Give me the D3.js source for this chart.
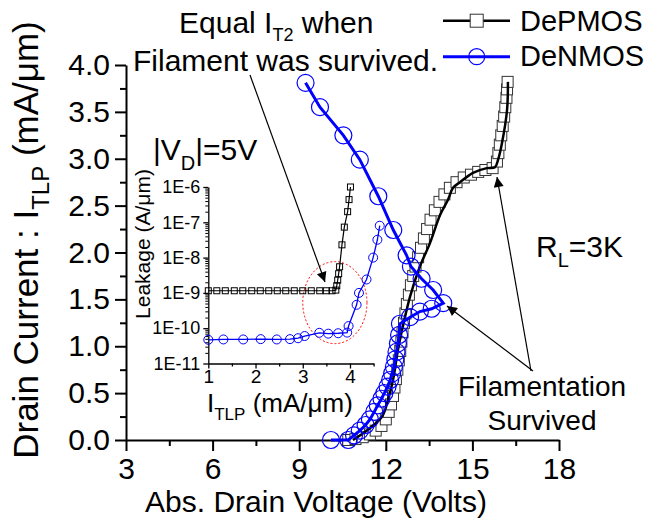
<!DOCTYPE html>
<html><head><meta charset="utf-8">
<script src="https://cdn.jsdelivr.net/npm/d3@7/dist/d3.min.js"></script>
<style>
body{margin:0;background:#fff}
svg{display:block}
text{font-family:"Liberation Sans",Arial,Helvetica,sans-serif;fill:#000}
</style>
</head><body>
<svg id="c" width="647" height="520"></svg>
<script>
// ---------- DATA ----------
const xTickVals = [3, 6, 9, 12, 15, 18];
const xMinorVals = [4.5, 7.5, 10.5, 13.5, 16.5];
const yTickVals = [0, 0.5, 1, 1.5, 2, 2.5, 3, 3.5, 4];
const yMinorVals = [0.25, 0.75, 1.25, 1.75, 2.25, 2.75, 3.25, 3.75];

// DePMOS fitted curve (line)
const depmosCurveV = [10.86, 11.38, 11.87, 12.08, 12.25, 12.42, 12.59, 12.84, 13.18, 13.53, 13.88, 14.15, 14.33, 14.57, 15.02, 15.5, 15.78, 15.89, 16.02, 16.2, 16.23];
const depmosCurveI = [0.0, 0.11, 0.25, 0.43, 0.64, 0.96, 1.21, 1.53, 1.85, 2.10, 2.40, 2.56, 2.69, 2.75, 2.85, 2.90, 2.91, 2.99, 3.16, 3.52, 3.82];
// DePMOS measured points (squares)
const depmosPtsV = [10.7, 10.95, 11.2, 11.45, 11.65, 11.85, 12.0, 12.1, 12.18, 12.25, 12.3, 12.35, 12.4, 12.45, 12.5, 12.54, 12.58, 12.63, 12.68, 12.73, 12.8, 12.87, 12.95, 13.03, 13.12, 13.22, 13.32, 13.43, 13.55, 13.7, 13.86, 14.03, 14.22, 14.45, 14.7, 14.95, 15.2, 15.45, 15.7, 15.85, 15.9, 15.95, 16.0, 16.05, 16.1, 16.14, 16.18, 16.2, 16.22];
const depmosPtsI = [0.0, 0.01, 0.03, 0.06, 0.1, 0.15, 0.22, 0.3, 0.38, 0.47, 0.56, 0.65, 0.75, 0.85, 0.95, 1.05, 1.15, 1.25, 1.35, 1.45, 1.55, 1.65, 1.75, 1.85, 1.95, 2.05, 2.15, 2.25, 2.35, 2.45, 2.54, 2.62, 2.69, 2.75, 2.8, 2.83, 2.86, 2.88, 2.9, 2.97, 3.06, 3.15, 3.25, 3.35, 3.45, 3.55, 3.65, 3.74, 3.82];
// DeNMOS (line + circles)
const denmosV = [10.1, 10.7, 10.9, 11.1, 11.3, 11.45, 11.6, 11.72, 11.85, 11.95, 12.06, 12.15, 12.22, 12.28, 12.33, 12.37, 12.42, 12.46, 12.49, 12.84, 13.18, 13.59, 13.99, 13.64, 13.24, 12.87, 12.72, 12.26, 11.74, 11.1, 10.53, 9.72, 9.22];
const denmosI = [0.0, 0.0, 0.05, 0.1, 0.16, 0.22, 0.3, 0.37, 0.44, 0.5, 0.57, 0.64, 0.71, 0.78, 0.86, 0.94, 1.03, 1.12, 1.24, 1.31, 1.37, 1.40, 1.46, 1.60, 1.72, 1.85, 1.97, 2.24, 2.60, 2.99, 3.25, 3.55, 3.81];

// Inset: leakage vs I_TLP
const insetXTicks = [1, 2, 3, 4];
const insetXMinor = [1.5, 2.5, 3.5, 4.5];
const insetYTicks = [1e-11, 1e-10, 1e-9, 1e-8, 1e-7, 1e-6];
const insetYLabels = ["1E-11", "1E-10", "1E-9", "1E-8", "1E-7", "1E-6"];
const insetPmosX = [1.0, 1.18, 1.36, 1.55, 1.73, 1.92, 2.1, 2.28, 2.46, 2.64, 2.82, 3.0, 3.18, 3.36, 3.5, 3.62, 3.7, 3.72, 3.74, 3.76, 3.78, 3.83, 3.88, 3.95, 3.98, 4.01];
const insetPmosY = [1.15e-9, 1.15e-9, 1.15e-9, 1.15e-9, 1.15e-9, 1.15e-9, 1.15e-9, 1.15e-9, 1.15e-9, 1.15e-9, 1.15e-9, 1.15e-9, 1.15e-9, 1.15e-9, 1.15e-9, 1.15e-9, 1.2e-9, 1.6e-9, 2.3e-9, 3.5e-9, 5.5e-9, 2.3e-8, 7.3e-8, 2e-7, 4.4e-7, 1e-6];
const insetNmosX = [1.0, 1.32, 1.74, 2.11, 2.45, 2.73, 2.9, 3.04, 3.35, 3.54, 3.75, 3.94, 3.97, 4.14, 4.19, 4.35, 4.49, 4.58, 4.63];
const insetNmosY = [4.7e-11, 4.8e-11, 4.8e-11, 4.9e-11, 4.8e-11, 4.9e-11, 5.2e-11, 6.0e-11, 7.4e-11, 7.0e-11, 7.2e-11, 7.5e-11, 1.15e-10, 4.6e-10, 1.0e-9, 2.4e-9, 1.0e-8, 3.2e-8, 8e-8];

const legendNames = ["DePMOS", "DeNMOS"];

// ---------- LAYOUT ----------
const svg = d3.select("#c");
const FONT = '"Liberation Sans",Arial,Helvetica,sans-serif';
const x = d3.scaleLinear().domain([3, 18]).range([126, 559]);
const y = d3.scaleLinear().domain([0, 4]).range([440, 65]);
const ix = d3.scaleLinear().domain([1, 4.5]).range([208.3, 373.6]);
const iy = d3.scaleLog().domain([1e-11, 1e-6]).range([363.5, 187]);

const defs = svg.append("defs");
defs.append("marker").attr("id", "arr").attr("viewBox", "0 0 10 10")
  .attr("refX", 10).attr("refY", 5).attr("markerWidth", 15).attr("markerHeight", 10)
  .attr("markerUnits", "userSpaceOnUse").attr("orient", "auto")
  .append("path").attr("d", "M0,0 L10,5 L0,10 Z").attr("fill", "#000");

function styleAxis(g, w) {
  g.select(".domain").attr("stroke", "#000").attr("stroke-width", w);
  g.selectAll(".tick line").attr("stroke", "#000").attr("stroke-width", w);
}

// main axes
const gx = svg.append("g").attr("transform", `translate(0,${y(0)})`)
  .call(d3.axisBottom(x).tickValues(xTickVals).tickSize(11).tickSizeOuter(0).tickPadding(7).tickFormat(d3.format("d")));
styleAxis(gx, 2);
gx.selectAll("text").attr("font-size", 30).attr("font-family", FONT).attr("fill", "#000");
const gxm = svg.append("g").attr("transform", `translate(0,${y(0)})`)
  .call(d3.axisBottom(x).tickValues(xMinorVals).tickSize(6).tickSizeOuter(0).tickFormat(""));
styleAxis(gxm, 2); gxm.select(".domain").remove();

const gy = svg.append("g").attr("transform", `translate(${x(3)},0)`)
  .call(d3.axisLeft(y).tickValues(yTickVals).tickSize(11).tickSizeOuter(0).tickPadding(5).tickFormat(d3.format(".1f")));
styleAxis(gy, 2);
gy.selectAll("text").attr("font-size", 30).attr("font-family", FONT).attr("fill", "#000");
const gym = svg.append("g").attr("transform", `translate(${x(3)},0)`)
  .call(d3.axisLeft(y).tickValues(yMinorVals).tickSize(6).tickSizeOuter(0).tickFormat(""));
styleAxis(gym, 2); gym.select(".domain").remove();

// rich text helper
function rich(parent, px, py, parts, size, subSize, shift, anchor, transform) {
  const t = parent.append("text").attr("x", px).attr("y", py)
    .attr("font-size", size).attr("text-anchor", anchor || "start");
  if (transform) t.attr("transform", transform);
  let down = false;
  parts.forEach(p => {
    const ts = t.append("tspan").text(p.t);
    if (p.sub && !down) { ts.attr("font-size", subSize).attr("dy", shift); down = true; }
    else if (!p.sub && down) { ts.attr("dy", -shift); down = false; }
  });
  return t;
}

// axis titles
rich(svg, 0, 0, [{t: "Drain Current : I"}, {t: "TLP", sub: true}, {t: " (mA/\u03bcm)"}], 35, 24, 11, "middle",
  "translate(38,240) rotate(-90)");
svg.append("text").attr("x", 316).attr("y", 512).attr("text-anchor", "middle")
  .attr("font-size", 30).text("Abs. Drain Voltage (Volts)");

// ---------- INSET ----------
const gix = svg.append("g").attr("transform", `translate(0,${iy(1e-11)})`)
  .call(d3.axisBottom(ix).tickValues(insetXTicks).tickSize(5).tickSizeOuter(0).tickPadding(1).tickFormat(d3.format("d")));
styleAxis(gix, 1.3);
gix.selectAll("text").attr("font-size", 19).attr("font-family", FONT).attr("fill", "#000");
const gixm = svg.append("g").attr("transform", `translate(0,${iy(1e-11)})`)
  .call(d3.axisBottom(ix).tickValues(insetXMinor).tickSize(3).tickSizeOuter(0).tickFormat(""));
styleAxis(gixm, 1.3); gixm.select(".domain").remove();

const giy = svg.append("g").attr("transform", `translate(${ix(1)},0)`)
  .call(d3.axisLeft(iy).tickValues(insetYTicks).tickSize(5).tickSizeOuter(0).tickPadding(3)
    .tickFormat((d, i) => insetYLabels[i]));
styleAxis(giy, 1.3);
giy.selectAll("text").attr("font-size", 18).attr("font-family", FONT).attr("fill", "#000");
const logMinor = [];
insetYTicks.slice(0, -1).forEach(dec => { for (let m = 2; m <= 9; m++) logMinor.push(dec * m); });
const giym = svg.append("g").attr("transform", `translate(${ix(1)},0)`)
  .call(d3.axisLeft(iy).tickValues(logMinor).tickSize(3).tickSizeOuter(0).tickFormat(""));
styleAxis(giym, 1); giym.select(".domain").remove();

rich(svg, 207, 412, [{t: "I"}, {t: "TLP", sub: true}, {t: " (mA/\u03bcm)"}], 26, 17, 8, "start");
svg.append("text").attr("transform", "translate(150,244) rotate(-90)").attr("text-anchor", "middle")
  .attr("font-size", 21).text("Leakage (A/\u03bcm)");

// red dotted ellipse (in inset data coordinates)
const ellC = [3.68, 5.3e-10];
const ellRx = ix(3.68 + 0.68) - ix(3.68);
const ellRy = iy(1e-9) - iy(1.45e-8);
svg.append("ellipse").attr("cx", ix(ellC[0])).attr("cy", iy(ellC[1]))
  .attr("rx", ellRx).attr("ry", ellRy)
  .attr("fill", "none").attr("stroke", "#ff0000").attr("stroke-width", 1).attr("stroke-dasharray", "2,2");

// inset series
const ipLine = d3.line().x(d => ix(d[0])).y(d => iy(d[1]));
const ipP = insetPmosX.map((v, i) => [v, insetPmosY[i]]);
const ipN = insetNmosX.map((v, i) => [v, insetNmosY[i]]);
svg.append("path").attr("d", ipLine(ipP)).attr("fill", "none").attr("stroke", "#000").attr("stroke-width", 1.2);
svg.append("g").selectAll("rect").data(ipP).join("rect")
  .attr("x", d => ix(d[0]) - 3).attr("y", d => iy(d[1]) - 3).attr("width", 6).attr("height", 6)
  .attr("fill", "none").attr("stroke", "#000").attr("stroke-width", 1);
svg.append("path").attr("d", ipLine(ipN)).attr("fill", "none").attr("stroke", "#0000ff").attr("stroke-width", 1.3);
svg.append("g").selectAll("circle").data(ipN).join("circle")
  .attr("cx", d => ix(d[0])).attr("cy", d => iy(d[1])).attr("r", 4.5)
  .attr("fill", "none").attr("stroke", "#0000ff").attr("stroke-width", 1);

// ---------- MAIN SERIES ----------
const pPts = depmosPtsV.map((v, i) => [v, depmosPtsI[i]]);
const pCurve = depmosCurveV.map((v, i) => [v, depmosCurveI[i]]);
const nPts = denmosV.map((v, i) => [v, denmosI[i]]);
const SQ = 11;
svg.append("g").selectAll("rect").data(pPts).join("rect")
  .attr("x", d => x(d[0]) - SQ / 2).attr("y", d => y(d[1]) - SQ / 2).attr("width", SQ).attr("height", SQ)
  .attr("fill", "#fff").attr("stroke", "#333").attr("stroke-width", 1);
svg.append("path").attr("d", d3.line().x(d => x(d[0])).y(d => y(d[1])).curve(d3.curveCatmullRom)(pCurve))
  .attr("fill", "none").attr("stroke", "#000").attr("stroke-width", 2.5);
svg.append("path").attr("d", d3.line().x(d => x(d[0])).y(d => y(d[1]))(nPts))
  .attr("fill", "none").attr("stroke", "#0000ff").attr("stroke-width", 3);
svg.append("g").selectAll("circle").data(nPts).join("circle")
  .attr("cx", d => x(d[0])).attr("cy", d => y(d[1])).attr("r", 8.5)
  .attr("fill", "none").attr("stroke", "#0000ff").attr("stroke-width", 1.2);

// ---------- LEGEND ----------
const lg = svg.append("g");
lg.append("line").attr("x1", 443).attr("x2", 510).attr("y1", 20.7).attr("y2", 20.7).attr("stroke", "#000").attr("stroke-width", 2.5);
lg.append("rect").attr("x", 476.7 - 6.5).attr("y", 20.7 - 6.5).attr("width", 13).attr("height", 13)
  .attr("fill", "#fff").attr("stroke", "#333").attr("stroke-width", 1);
lg.append("line").attr("x1", 443).attr("x2", 510).attr("y1", 56.7).attr("y2", 56.7).attr("stroke", "#0000ff").attr("stroke-width", 3);
lg.append("circle").attr("cx", 476.7).attr("cy", 56.7).attr("r", 8).attr("fill", "none").attr("stroke", "#0000ff").attr("stroke-width", 1.2);
lg.append("text").attr("x", 520).attr("y", 31).attr("font-size", 29).text(legendNames[0]);
lg.append("text").attr("x", 520).attr("y", 66).attr("font-size", 29).text(legendNames[1]);

// ---------- ANNOTATIONS ----------
rich(svg, 179, 33, [{t: "Equal I"}, {t: "T2", sub: true}, {t: " when"}], 30, 18, 8, "start");
svg.append("text").attr("x", 133).attr("y", 71).attr("font-size", 30).text("Filament was survived.");
rich(svg, 153, 160, [{t: "|V"}, {t: "D", sub: true}, {t: "|=5V"}], 30, 20, 10, "start");
rich(svg, 536, 257, [{t: "R"}, {t: "L", sub: true}, {t: "=3K"}], 30, 20, 10, "start");
svg.append("text").attr("x", 542).attr("y", 396).attr("text-anchor", "middle").attr("font-size", 28).text("Filamentation");
svg.append("text").attr("x", 542).attr("y", 430).attr("text-anchor", "middle").attr("font-size", 28).text("Survived");

function arrow(x1, y1, x2, y2) {
  svg.append("line").attr("x1", x1).attr("y1", y1).attr("x2", x2).attr("y2", y2)
    .attr("stroke", "#000").attr("stroke-width", 1.2).attr("marker-end", "url(#arr)");
}
arrow(250, 75, 325, 282);
arrow(533, 371, 447, 306);
arrow(531, 371, 497, 177);
</script>
</body></html>
